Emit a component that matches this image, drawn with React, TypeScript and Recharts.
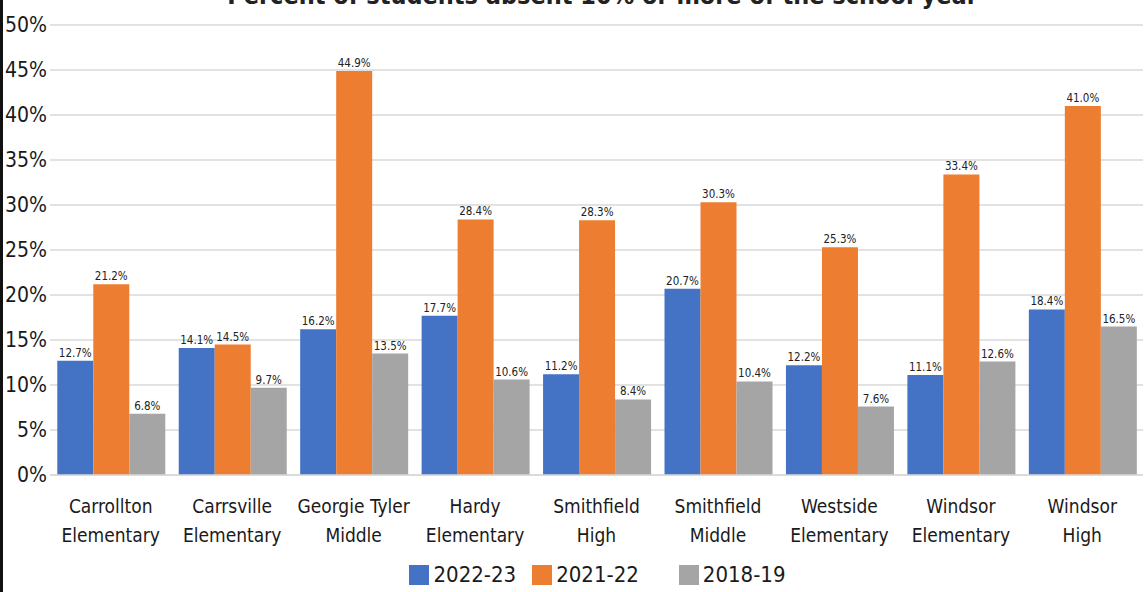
import React from "react";
import {
  BarChart,
  Bar,
  XAxis,
  YAxis,
  CartesianGrid,
  Legend,
  LabelList,
} from "recharts";

const schools = [
  "Carrollton\nElementary",
  "Carrsville\nElementary",
  "Georgie Tyler\nMiddle",
  "Hardy\nElementary",
  "Smithfield\nHigh",
  "Smithfield\nMiddle",
  "Westside\nElementary",
  "Windsor\nElementary",
  "Windsor\nHigh",
];
const y2022 = [12.7, 14.1, 16.2, 17.7, 11.2, 20.7, 12.2, 11.1, 18.4];
const y2021 = [21.2, 14.5, 44.9, 28.4, 28.3, 30.3, 25.3, 33.4, 41.0];
const y2018 = [6.8, 9.7, 13.5, 10.6, 8.4, 10.4, 7.6, 12.6, 16.5];
const yTicks = [0, 5, 10, 15, 20, 25, 30, 35, 40, 45, 50];

const data = schools.map((school, i) => ({
  school,
  a: y2022[i],
  b: y2021[i],
  c: y2018[i],
}));

const FONT = "'DejaVu Sans Condensed', 'DejaVu Sans', sans-serif";

const SchoolTick = (props: any) => {
  const { x, y, payload } = props;
  const lines = String(payload.value).split("\n");
  return (
    <g transform={`translate(${x},${y})`}>
      {lines.map((ln, i) => (
        <text
          key={i}
          x={0}
          y={30 + i * 29}
          textAnchor="middle"
          fontSize={19}
          fontFamily={FONT}
          fill="#1a1a1a"
        >
          {ln}
        </text>
      ))}
    </g>
  );
};

const LegendContent = () => {
  const items = [
    { label: "2022-23", color: "#4472C4" },
    { label: "2021-22", color: "#ED7D31" },
    { label: "2018-19", color: "#A5A5A5" },
  ];
  return (
    <div
      style={{
        display: "flex",
        justifyContent: "center",
        paddingLeft: 52,
        fontFamily: FONT,
        fontSize: 22,
        color: "#1a1a1a",
        lineHeight: "26px",
      }}
    >
      {items.map((it, i) => (
        <div
          key={it.label}
          style={{ display: "flex", alignItems: "center", marginLeft: i === 0 ? 0 : i === 1 ? 16 : 40 }}
        >
          <span style={{ width: 20, height: 20, background: it.color, display: "inline-block", marginRight: 4 }} />
          <span>{it.label}</span>
        </div>
      ))}
    </div>
  );
};

const fmt = (v: any) => `${Number(v).toFixed(1)}%`;
const labelStyle = { fontSize: 11.5, fill: "#222", fontFamily: FONT };

export default function App() {
  return (
    <div
      style={{
        position: "absolute",
        left: 0,
        top: 0,
        width: 1145,
        height: 592,
        overflow: "hidden",
        background: "#fff",
      }}
    >
      <BarChart
        width={1145}
        height={592}
        data={data}
        margin={{ top: 25, right: 2, left: 0, bottom: 0 }}
        barCategoryGap="6%"
        barGap={0}
      >
        <CartesianGrid vertical={false} stroke="#d9d9d9" strokeWidth={1.5} />
        <XAxis
          dataKey="school"
          tick={<SchoolTick />}
          tickLine={false}
          axisLine={{ stroke: "#d9d9d9", strokeWidth: 1.5 }}
          interval={0}
          height={87}
        />
        <YAxis
          domain={[0, 50]}
          ticks={yTicks}
          tickFormatter={(v) => `${v}%`}
          tickLine={false}
          axisLine={false}
          width={50}
          tickSize={0}
          tickMargin={3}
          tick={{ fontSize: 21, fill: "#1a1a1a", fontFamily: FONT }}
        />
        <Legend verticalAlign="bottom" height={30} content={<LegendContent />} />
        <Bar dataKey="a" fill="#4472C4" isAnimationActive={false}>
          <LabelList dataKey="a" position="top" offset={4} formatter={fmt} style={labelStyle} />
        </Bar>
        <Bar dataKey="b" fill="#ED7D31" isAnimationActive={false}>
          <LabelList dataKey="b" position="top" offset={4} formatter={fmt} style={labelStyle} />
        </Bar>
        <Bar dataKey="c" fill="#A5A5A5" isAnimationActive={false}>
          <LabelList dataKey="c" position="top" offset={4} formatter={fmt} style={labelStyle} />
        </Bar>
      </BarChart>
      <div
        style={{
          position: "absolute",
          zIndex: 5,
          top: -19,
          left: 0,
          width: 1205,
          textAlign: "center",
          fontFamily: FONT,
          fontWeight: "bold",
          fontSize: 25,
          lineHeight: "30px",
          color: "#222",
          whiteSpace: "nowrap",
        }}
      >
        Percent of students absent 10% or more of the school year
      </div>
      <div
        style={{ position: "absolute", zIndex: 5, left: 0, top: 0, width: 3, height: 592, background: "#111" }}
      />
    </div>
  );
}
